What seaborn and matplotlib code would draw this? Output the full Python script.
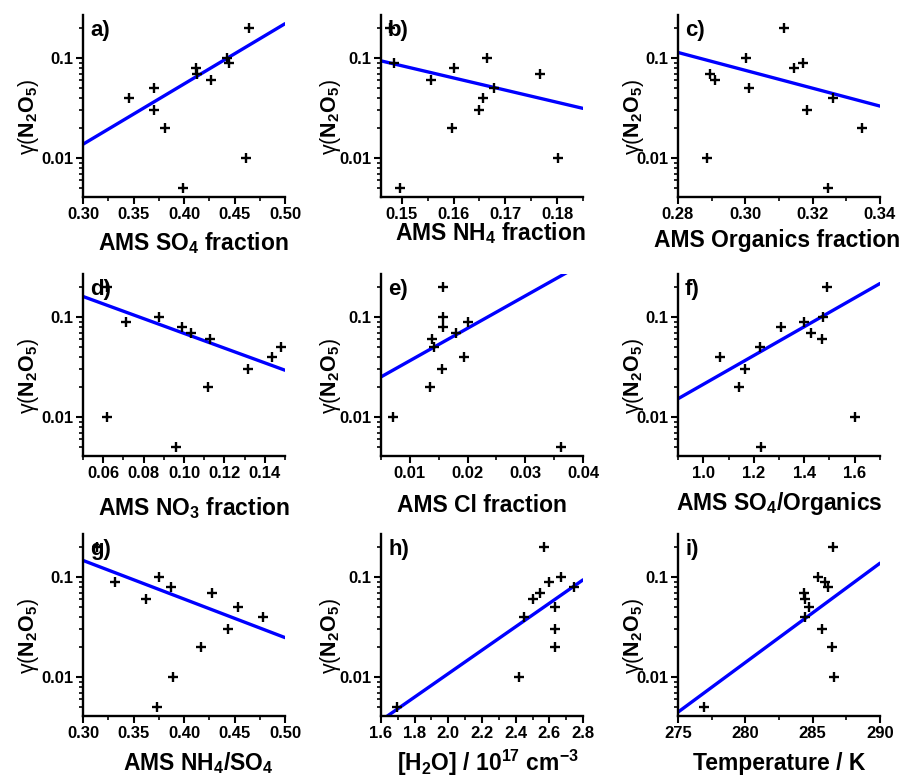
import numpy as np
import pandas as pd
import matplotlib
matplotlib.use("Agg")
import matplotlib.pyplot as plt
import matplotlib.ticker as mticker
import seaborn as sns

# ---- data ----
# every panel uses the same 12 uptake coefficients
gamma_a = [0.04, 0.05, 0.03, 0.02, 0.005, 0.08, 0.07, 0.06, 0.1, 0.09, 0.01, 0.2]
so4_frac = [0.346, 0.370, 0.370, 0.381, 0.399, 0.412, 0.413, 0.427, 0.443, 0.445, 0.461, 0.464]

gamma_b = [0.09, 0.2, 0.005, 0.06, 0.08, 0.02, 0.1, 0.03, 0.04, 0.05, 0.07, 0.01]
nh4_frac = [0.1486, 0.1478, 0.1497, 0.1557, 0.1601, 0.1598, 0.1664, 0.1649, 0.1657, 0.1678, 0.1767, 0.1801]

gamma_c = [0.01, 0.07, 0.06, 0.1, 0.05, 0.2, 0.08, 0.09, 0.03, 0.005, 0.04, 0.02]
org_frac = [0.2886, 0.2894, 0.2909, 0.3003, 0.3011, 0.3115, 0.3145, 0.3170, 0.3184, 0.3246, 0.3261, 0.3348]

gamma_d = [0.01, 0.2, 0.09, 0.1, 0.005, 0.08, 0.07, 0.02, 0.06, 0.03, 0.04, 0.05]
no3_frac = [0.0621, 0.062, 0.0715, 0.0877, 0.0958, 0.0988, 0.1037, 0.1117, 0.1131, 0.1315, 0.1436, 0.148]

gamma_e = [0.01, 0.2, 0.1, 0.08, 0.06, 0.05, 0.02, 0.03, 0.07, 0.09, 0.04, 0.005]
cl_frac = [0.0070, 0.0158, 0.0157, 0.0157, 0.0138, 0.0141, 0.0135, 0.0155, 0.0180, 0.0200, 0.0193, 0.0362]

gamma_f = [0.04, 0.02, 0.03, 0.005, 0.05, 0.08, 0.09, 0.07, 0.06, 0.1, 0.2, 0.01]
so4_org = [1.065, 1.140, 1.164, 1.228, 1.226, 1.309, 1.400, 1.427, 1.472, 1.476, 1.489, 1.601]

gamma_g = [0.09, 0.06, 0.1, 0.005, 0.08, 0.01, 0.02, 0.07, 0.03, 0.05, 0.04, 0.2]
nh4_so4 = [0.3314, 0.362, 0.3754, 0.3734, 0.3876, 0.3893, 0.4164, 0.4273, 0.4438, 0.453, 0.4785, 0.314]

gamma_h = [0.005, 0.01, 0.04, 0.06, 0.07, 0.2, 0.09, 0.05, 0.03, 0.02, 0.1, 0.08]
h2o_conc = [1.693, 2.417, 2.451, 2.503, 2.542, 2.570, 2.596, 2.636, 2.636, 2.636, 2.669, 2.744]

gamma_i = [0.005, 0.07, 0.06, 0.04, 0.05, 0.1, 0.03, 0.09, 0.08, 0.02, 0.2, 0.01]
temp_k = [276.95, 284.39, 284.44, 284.44, 284.74, 285.38, 285.73, 285.88, 286.12, 286.42, 286.54, 286.62]

# fitted lines: gamma at the left and right end of each x range
fit_a = [0.0138, 0.221]
fit_b = [0.094, 0.0315]
fit_c = [0.114, 0.0332]
fit_d = [0.161, 0.0295]
fit_e = [0.0253, 0.344]
fit_f = [0.0153, 0.217]
fit_g = [0.147, 0.0249]
fit_h = [0.0037, 0.094]
fit_i = [0.00448, 0.138]

panels = [
    ("a)", so4_frac, gamma_a, fit_a, (0.30, 0.50), [0.30, 0.35, 0.40, 0.45, 0.50], "%.2f",
     r"AMS SO$_4$ fraction"),
    ("b)", nh4_frac, gamma_b, fit_b, (0.146, 0.185), [0.15, 0.16, 0.17, 0.18], "%.2f",
     r"AMS NH$_4$ fraction"),
    ("c)", org_frac, gamma_c, fit_c, (0.28, 0.34), [0.28, 0.30, 0.32, 0.34], "%.2f",
     "AMS Organics fraction"),
    ("d)", no3_frac, gamma_d, fit_d, (0.05, 0.15), [0.06, 0.08, 0.10, 0.12, 0.14], "%.2f",
     r"AMS NO$_3$ fraction"),
    ("e)", cl_frac, gamma_e, fit_e, (0.005, 0.04), [0.01, 0.02, 0.03, 0.04], "%.2f",
     "AMS Cl fraction"),
    ("f)", so4_org, gamma_f, fit_f, (0.9, 1.7), [1.0, 1.2, 1.4, 1.6], "%.1f",
     r"AMS SO$_4$/Organics"),
    ("g)", nh4_so4, gamma_g, fit_g, (0.30, 0.50), [0.30, 0.35, 0.40, 0.45, 0.50], "%.2f",
     r"AMS NH$_4$/SO$_4$"),
    ("h)", h2o_conc, gamma_h, fit_h, (1.6, 2.8), [1.6, 1.8, 2.0, 2.2, 2.4, 2.6, 2.8], "%.1f",
     r"[H$_2$O] / 10$^{17}$ cm$^{-3}$"),
    ("i)", temp_k, gamma_i, fit_i, (275, 290), [275, 280, 285, 290], "%d",
     "Temperature / K"),
]

# x label placement (axes fraction: x centre, baseline y)
xlabel_pos = [(0.545, -0.29), (0.54, -0.236), (0.49, -0.275),
              (0.55, -0.324), (0.50, -0.308), (0.50, -0.297),
              (0.57, -0.30), (0.53, -0.30), (0.50, -0.295)]
ylabel_x = [-0.272, -0.25, -0.22]
ylabel_txt = r"$\mathrm{\gamma(}$N$_2$O$_5\mathrm{)}$"

# ---- style ----
sns.set_theme(style="ticks")
plt.rcParams['font.family'] = ['Liberation Sans', 'DejaVu Sans']
plt.rcParams['text.color'] = 'black'
plt.rcParams['mathtext.fontset'] = 'custom'
plt.rcParams['mathtext.rm'] = 'Liberation Sans'
plt.rcParams['mathtext.it'] = 'Liberation Sans:italic'
plt.rcParams['mathtext.default'] = 'regular'

fig = plt.figure(figsize=(9.07, 7.78), dpi=100)
W, H = 907.0, 778.0
col_left = [83, 381, 678]
row_top = [15, 274, 534]
aw, ah = 202, 182

for k, (tag, xs, ys, fit, xlim, xticks, fmt, xlab) in enumerate(panels):
    r, c = divmod(k, 3)
    ax = fig.add_axes([col_left[c] / W, 1 - (row_top[r] + ah) / H, aw / W, ah / H])

    df = pd.DataFrame({"x": xs, "gamma": ys})
    sns.scatterplot(data=df, x="x", y="gamma", marker="+", color="black",
                    s=60, linewidth=1.7, ax=ax, zorder=3)
    line = pd.DataFrame({"x": list(xlim), "gamma": fit})
    sns.lineplot(data=line, x="x", y="gamma", color="#0000ff", linewidth=2.4,
                 ax=ax, zorder=2)

    ax.set_yscale("log")
    ax.set_ylim(0.0041, 0.27)
    ax.set_xlim(*xlim)
    ax.set_xticks(xticks)
    ax.xaxis.set_major_formatter(mticker.FormatStrFormatter(fmt))
    ax.xaxis.set_minor_locator(mticker.AutoMinorLocator(2))
    ax.set_yticks([0.01, 0.1])
    ax.set_yticklabels(["0.01", "0.1"])
    ax.yaxis.set_minor_locator(mticker.LogLocator(base=10, subs=np.arange(2, 10)))
    ax.yaxis.set_minor_formatter(mticker.NullFormatter())

    for s in ["top", "right"]:
        ax.spines[s].set_visible(False)
    for s in ["left", "bottom"]:
        ax.spines[s].set_linewidth(1.7)
        ax.spines[s].set_color("black")
    ax.tick_params(which="major", direction="out", length=5, width=1.5,
                   color="black", labelsize=12, pad=2)
    ax.tick_params(which="minor", direction="out", length=3, width=1.2, color="black")
    for lab in ax.get_xticklabels() + ax.get_yticklabels():
        lab.set_fontweight("bold")
        lab.set_color("black")

    ax.set_xlabel(xlab, fontsize=16.5, fontweight="bold", color="black")
    ax.xaxis.label.set_va("baseline")
    ax.xaxis.set_label_coords(*xlabel_pos[k])
    ax.set_ylabel(ylabel_txt, fontsize=15.5, fontweight="bold", color="black")
    ax.yaxis.label.set_va("center")
    ax.yaxis.set_label_coords(ylabel_x[c], 0.44)

    ax.text(0.035, 0.975, tag, transform=ax.transAxes, fontsize=16,
            fontweight="bold", va="top", ha="left", color="black", zorder=1)

fig.savefig("out.png", dpi=100, facecolor="white")
